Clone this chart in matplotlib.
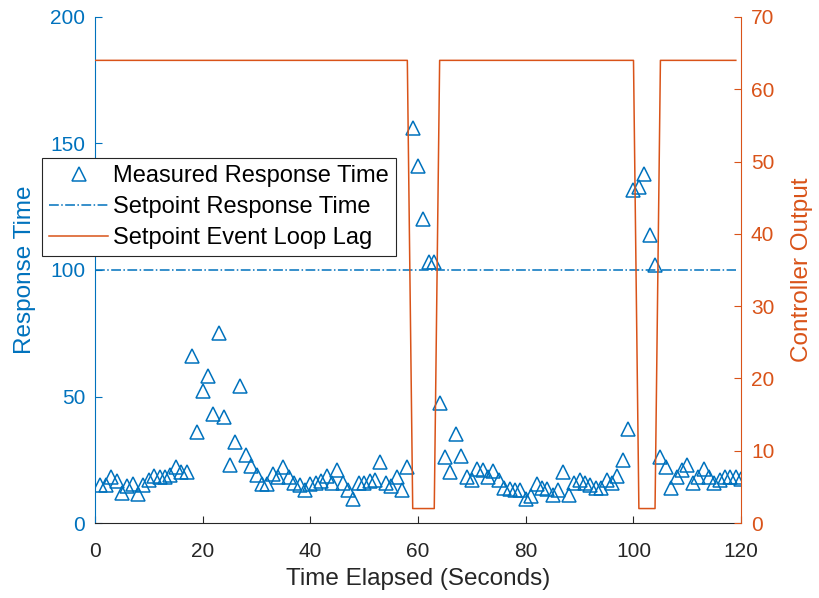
import numpy as np
import matplotlib.pyplot as plt

plt.rcParams['font.family'] = ['Liberation Sans', 'DejaVu Sans']

# measured response time, one sample per second (t = 1..120)
t_meas = np.arange(1, 121)
resp = [15, 15, 18, 16.5, 12, 14.5, 15.5, 11.5, 15, 17,
        18.5, 18, 18, 19, 22, 20, 20, 66, 36, 52,
        58, 43, 75, 42, 23, 32, 54, 27, 22.5, 19,
        15.5, 15.5, 19.5, 18, 22, 18, 16, 15, 13, 15.5,
        16, 16.5, 18.5, 16, 21, 16, 13, 9.5, 16, 16,
        16.5, 17, 24, 16, 14.5, 18, 13, 22, 156, 141,
        120, 103, 103, 47.5, 26, 20, 35, 26.5, 18, 17,
        21.5, 21, 18, 20.5, 17, 14, 13.5, 13, 13, 9.5,
        10.5, 15.5, 14, 13.5, 11, 13, 20, 11, 16, 17,
        16, 15, 14, 14, 17, 16, 18.5, 25, 37, 131.5,
        133, 138, 114, 102, 26, 22, 14, 18, 21, 23,
        16, 18, 21.5, 18, 16, 17, 18, 18, 18, 17.5]

# setpoint / controller output (t = 0..119)
t_ctrl = np.arange(0, 120)
setpoint = [100] * 120
ctrl_out = [64] * 59 + [2] * 5 + [64] * 37 + [2] * 4 + [64] * 15

blue = '#0072BD'
orange = '#D95319'

fig = plt.figure(figsize=(8.19, 5.98), dpi=100)
ax = fig.add_axes([0.116, 0.1254, 0.789, 0.8462])
ax2 = ax.twinx()

h1, = ax.plot(t_meas, resp, linestyle='none', marker='^', markersize=10,
              markerfacecolor='none', markeredgecolor=blue, markeredgewidth=1.1,
              label='Measured Response Time')
h2, = ax.plot(t_ctrl, setpoint, linestyle='-.', color=blue, linewidth=1.1,
              label='Setpoint Response Time')
h3, = ax2.plot(t_ctrl, ctrl_out, color=orange, linewidth=1.1,
               label='Setpoint Event Loop Lag')

ax.set_xlim(0, 120)
ax.set_ylim(0, 200)
ax2.set_ylim(0, 70)
ax.set_xticks(range(0, 121, 20))
ax.set_yticks(range(0, 201, 50))
ax2.set_yticks(range(0, 71, 10))

for a in (ax, ax2):
    a.spines['top'].set_visible(False)
ax2.spines['left'].set_visible(False)
ax2.spines['bottom'].set_visible(False)
ax.spines['right'].set_visible(False)
ax.spines['left'].set_color(blue)
ax2.spines['right'].set_color(orange)
ax.spines['bottom'].set_color('#262626')

ax.tick_params(axis='x', direction='in', colors='#262626', labelsize=15, length=5, pad=14)
ax.tick_params(axis='y', direction='in', colors=blue, labelsize=15, length=5, pad=7)
ax2.tick_params(axis='y', direction='in', colors=orange, labelsize=15, length=5, pad=7)

ax.set_xlabel('Time Elapsed (Seconds)', fontsize=17.5, color='#262626', labelpad=5)
ax.set_ylabel('Response Time', fontsize=17.5, color=blue, labelpad=10)
ax2.set_ylabel('Controller Output', fontsize=17.5, color=orange, labelpad=12)

leg = ax2.legend(handles=[h1, h2, h3], loc='upper left',
                 bbox_to_anchor=(0.0513, 0.7358), bbox_transform=fig.transFigure,
                 fontsize=17, fancybox=False, framealpha=1, edgecolor='#262626',
                 borderaxespad=0, handlelength=2.5, handletextpad=0.2,
                 borderpad=0.3, labelspacing=0.38)
leg.get_frame().set_linewidth(0.8)

fig.savefig('out.png', dpi=100)
